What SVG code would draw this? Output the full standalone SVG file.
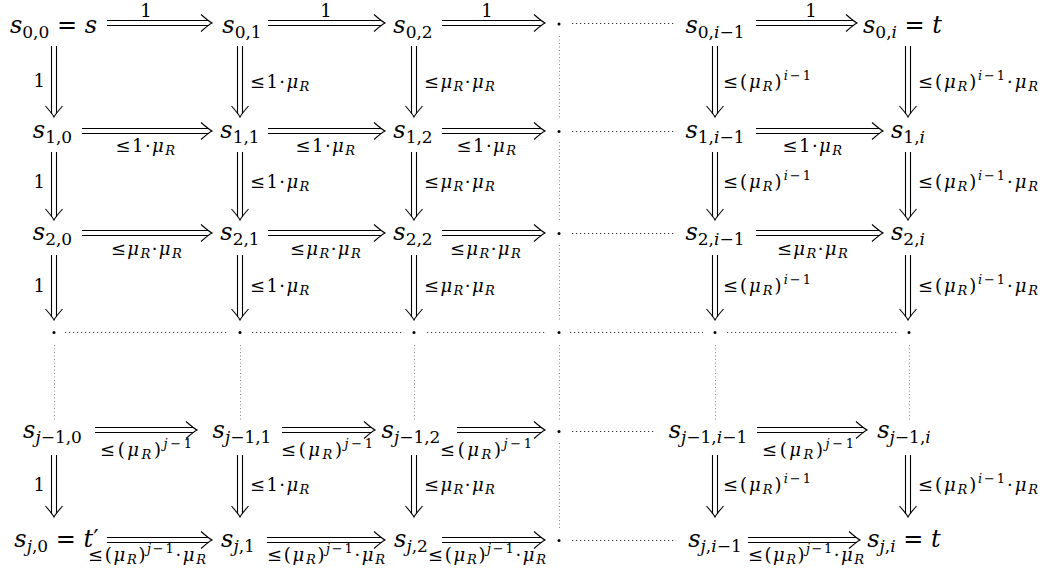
<svg xmlns="http://www.w3.org/2000/svg" xmlns:xlink="http://www.w3.org/1999/xlink" width="1047" height="576" viewBox="0 0 1047 576">
<style>
text{font-family:"DejaVu Serif","Liberation Serif",serif;fill:#000}
.m{font-size:24px}
.b{font-size:17px}
.l{font-size:18px}
.s{font-size:13px}
.i{font-style:italic}
.w{letter-spacing:1.4px}
.dl{fill:none;stroke:#000;stroke-width:1.1}
.hd{fill:none;stroke:#333;stroke-width:1;stroke-dasharray:1.2 2.8}
.vd{fill:none;stroke:#888;stroke-width:1;stroke-dasharray:1 2.5}
.dot{fill:#000}
</style>
<defs>
<path id="hr" class="dl" d="M-11,-8.5 C-7,-5 -3,-1.5 0,0 C-3,1.5 -7,5 -11,8.5"/>
<path id="hdn" class="dl" d="M8.5,-11 C5,-7 1.5,-3 0,0 C-1.5,-3 -5,-7 -8.5,-11"/>
</defs>
<rect width="1047" height="576" fill="#fff"/>

<g id="connectors">
<path class="dl" d="M107,20.5H209M107,25.5H209"/><use xlink:href="#hr" x="212" y="23"/>
<path class="dl" d="M268,20.5H382M268,25.5H382"/><use xlink:href="#hr" x="385" y="23"/>
<path class="dl" d="M442,20.5H542M442,25.5H542"/><use xlink:href="#hr" x="545" y="23"/>
<path class="dl" d="M756,20.5H854M756,25.5H854"/><use xlink:href="#hr" x="857" y="23"/>
<path class="dl" d="M82,128.5H209M82,133.5H209"/><use xlink:href="#hr" x="212" y="131"/>
<path class="dl" d="M268,128.5H382M268,133.5H382"/><use xlink:href="#hr" x="385" y="131"/>
<path class="dl" d="M442,128.5H542M442,133.5H542"/><use xlink:href="#hr" x="545" y="131"/>
<path class="dl" d="M756,128.5H880M756,133.5H880"/><use xlink:href="#hr" x="883" y="131"/>
<path class="dl" d="M82,230.5H209M82,235.5H209"/><use xlink:href="#hr" x="212" y="233"/>
<path class="dl" d="M268,230.5H382M268,235.5H382"/><use xlink:href="#hr" x="385" y="233"/>
<path class="dl" d="M442,230.5H542M442,235.5H542"/><use xlink:href="#hr" x="545" y="233"/>
<path class="dl" d="M756,230.5H880M756,235.5H880"/><use xlink:href="#hr" x="883" y="233"/>
<path class="dl" d="M95,427.5H194M95,432.5H194"/><use xlink:href="#hr" x="197" y="430"/>
<path class="dl" d="M282,427.5H372M282,432.5H372"/><use xlink:href="#hr" x="375" y="430"/>
<path class="dl" d="M457,427.5H542M457,432.5H542"/><use xlink:href="#hr" x="545" y="430"/>
<path class="dl" d="M757,427.5H864M757,432.5H864"/><use xlink:href="#hr" x="867" y="430"/>
<path class="dl" d="M107,537.5H209M107,542.5H209"/><use xlink:href="#hr" x="212" y="540"/>
<path class="dl" d="M267,537.5H382M267,542.5H382"/><use xlink:href="#hr" x="385" y="540"/>
<path class="dl" d="M442,537.5H542M442,542.5H542"/><use xlink:href="#hr" x="545" y="540"/>
<path class="dl" d="M748,537.5H857M748,542.5H857"/><use xlink:href="#hr" x="860" y="540"/>

<path class="dl" d="M51.5,46V114M56.5,46V114"/><use xlink:href="#hdn" x="54" y="117"/>
<path class="dl" d="M237.5,46V114M242.5,46V114"/><use xlink:href="#hdn" x="240" y="117"/>
<path class="dl" d="M411.5,46V114M416.5,46V114"/><use xlink:href="#hdn" x="414" y="117"/>
<path class="dl" d="M712.5,46V114M717.5,46V114"/><use xlink:href="#hdn" x="715" y="117"/>
<path class="dl" d="M905.5,46V114M910.5,46V114"/><use xlink:href="#hdn" x="908" y="117"/>
<path class="dl" d="M51.5,152V217M56.5,152V217"/><use xlink:href="#hdn" x="54" y="220"/>
<path class="dl" d="M237.5,152V217M242.5,152V217"/><use xlink:href="#hdn" x="240" y="220"/>
<path class="dl" d="M411.5,152V217M416.5,152V217"/><use xlink:href="#hdn" x="414" y="220"/>
<path class="dl" d="M712.5,152V217M717.5,152V217"/><use xlink:href="#hdn" x="715" y="220"/>
<path class="dl" d="M905.5,152V217M910.5,152V217"/><use xlink:href="#hdn" x="908" y="220"/>
<path class="dl" d="M51.5,255V317M56.5,255V317"/><use xlink:href="#hdn" x="54" y="320"/>
<path class="dl" d="M237.5,255V317M242.5,255V317"/><use xlink:href="#hdn" x="240" y="320"/>
<path class="dl" d="M411.5,255V317M416.5,255V317"/><use xlink:href="#hdn" x="414" y="320"/>
<path class="dl" d="M712.5,255V317M717.5,255V317"/><use xlink:href="#hdn" x="715" y="320"/>
<path class="dl" d="M905.5,255V317M910.5,255V317"/><use xlink:href="#hdn" x="908" y="320"/>
<path class="dl" d="M51.5,455V514M56.5,455V514"/><use xlink:href="#hdn" x="54" y="517"/>
<path class="dl" d="M237.5,455V514M242.5,455V514"/><use xlink:href="#hdn" x="240" y="517"/>
<path class="dl" d="M411.5,455V514M416.5,455V514"/><use xlink:href="#hdn" x="414" y="517"/>
<path class="dl" d="M712.5,455V514M717.5,455V514"/><use xlink:href="#hdn" x="715" y="517"/>
<path class="dl" d="M905.5,455V514M910.5,455V514"/><use xlink:href="#hdn" x="908" y="517"/>

<path class="hd" d="M572,23.5H675M572,131.5H675M572,233.5H675M572,431.5H655M572,540.5H675"/>
<path class="hd" d="M65,332.5H228M252,332.5H403M427,332.5H547M570,332.5H703M727,332.5H897"/>
<path class="vd" d="M54.5,345V420M240.5,345V420M414.5,345V420M715.5,345V420M909.5,345V420"/>
<path class="vd" d="M559.5,36V120M559.5,142V222M559.5,245V320M559.5,345V420M559.5,443V528"/>
</g>

<g id="edge-labels">
<text class="l" x="146" y="17" text-anchor="middle">1</text>
<text class="l" x="326" y="17" text-anchor="middle">1</text>
<text class="l" x="487" y="17" text-anchor="middle">1</text>
<text class="l" x="811" y="17" text-anchor="middle">1</text>

<text class="l w" x="146" y="152" text-anchor="middle">≤1·<tspan class="i">μ</tspan><tspan class="s i" dy="3">R</tspan></text>
<text class="l w" x="326" y="152" text-anchor="middle">≤1·<tspan class="i">μ</tspan><tspan class="s i" dy="3">R</tspan></text>
<text class="l w" x="487" y="152" text-anchor="middle">≤1·<tspan class="i">μ</tspan><tspan class="s i" dy="3">R</tspan></text>
<text class="l w" x="813" y="152" text-anchor="middle">≤1·<tspan class="i">μ</tspan><tspan class="s i" dy="3">R</tspan></text>

<text class="l w" x="147" y="255" text-anchor="middle">≤<tspan class="i">μ</tspan><tspan class="s i" dy="3">R</tspan><tspan dy="-3">·</tspan><tspan class="i">μ</tspan><tspan class="s i" dy="3">R</tspan></text>
<text class="l w" x="326" y="255" text-anchor="middle">≤<tspan class="i">μ</tspan><tspan class="s i" dy="3">R</tspan><tspan dy="-3">·</tspan><tspan class="i">μ</tspan><tspan class="s i" dy="3">R</tspan></text>
<text class="l w" x="486" y="255" text-anchor="middle">≤<tspan class="i">μ</tspan><tspan class="s i" dy="3">R</tspan><tspan dy="-3">·</tspan><tspan class="i">μ</tspan><tspan class="s i" dy="3">R</tspan></text>
<text class="l w" x="813" y="255" text-anchor="middle">≤<tspan class="i">μ</tspan><tspan class="s i" dy="3">R</tspan><tspan dy="-3">·</tspan><tspan class="i">μ</tspan><tspan class="s i" dy="3">R</tspan></text>

<text class="l" x="146" y="456" text-anchor="middle" textLength="92">≤(<tspan class="i">μ</tspan><tspan class="s i" dy="3">R</tspan><tspan dy="-3">)</tspan><tspan class="s" dy="-8"><tspan class="i">j</tspan>−1</tspan></text>
<text class="l" x="327" y="456" text-anchor="middle" textLength="92">≤(<tspan class="i">μ</tspan><tspan class="s i" dy="3">R</tspan><tspan dy="-3">)</tspan><tspan class="s" dy="-8"><tspan class="i">j</tspan>−1</tspan></text>
<text class="l" x="486" y="456" text-anchor="middle" textLength="92">≤(<tspan class="i">μ</tspan><tspan class="s i" dy="3">R</tspan><tspan dy="-3">)</tspan><tspan class="s" dy="-8"><tspan class="i">j</tspan>−1</tspan></text>
<text class="l" x="808" y="456" text-anchor="middle" textLength="92">≤(<tspan class="i">μ</tspan><tspan class="s i" dy="3">R</tspan><tspan dy="-3">)</tspan><tspan class="s" dy="-8"><tspan class="i">j</tspan>−1</tspan></text>

<text class="l" x="147" y="561" text-anchor="middle" textLength="118">≤(<tspan class="i">μ</tspan><tspan class="s i" dy="3">R</tspan><tspan dy="-3">)</tspan><tspan class="s" dy="-8"><tspan class="i">j</tspan>−1</tspan><tspan dy="8">·</tspan><tspan class="i">μ</tspan><tspan class="s i" dy="3">R</tspan></text>
<text class="l" x="326" y="561" text-anchor="middle" textLength="118">≤(<tspan class="i">μ</tspan><tspan class="s i" dy="3">R</tspan><tspan dy="-3">)</tspan><tspan class="s" dy="-8"><tspan class="i">j</tspan>−1</tspan><tspan dy="8">·</tspan><tspan class="i">μ</tspan><tspan class="s i" dy="3">R</tspan></text>
<text class="l" x="487" y="561" text-anchor="middle" textLength="118">≤(<tspan class="i">μ</tspan><tspan class="s i" dy="3">R</tspan><tspan dy="-3">)</tspan><tspan class="s" dy="-8"><tspan class="i">j</tspan>−1</tspan><tspan dy="8">·</tspan><tspan class="i">μ</tspan><tspan class="s i" dy="3">R</tspan></text>
<text class="l" x="806" y="561" text-anchor="middle" textLength="116">≤(<tspan class="i">μ</tspan><tspan class="s i" dy="3">R</tspan><tspan dy="-3">)</tspan><tspan class="s" dy="-8"><tspan class="i">j</tspan>−1</tspan><tspan dy="8">·</tspan><tspan class="i">μ</tspan><tspan class="s i" dy="3">R</tspan></text>

<text class="l" x="45" y="87" text-anchor="end">1</text>
<text class="l" x="45" y="188" text-anchor="end">1</text>
<text class="l" x="45" y="292" text-anchor="end">1</text>
<text class="l" x="45" y="491" text-anchor="end">1</text>

<text class="l w" x="250" y="88">≤1·<tspan class="i">μ</tspan><tspan class="s i" dy="3">R</tspan></text>
<text class="l w" x="250" y="188">≤1·<tspan class="i">μ</tspan><tspan class="s i" dy="3">R</tspan></text>
<text class="l w" x="250" y="292">≤1·<tspan class="i">μ</tspan><tspan class="s i" dy="3">R</tspan></text>
<text class="l w" x="250" y="491">≤1·<tspan class="i">μ</tspan><tspan class="s i" dy="3">R</tspan></text>

<text class="l w" x="424" y="88">≤<tspan class="i">μ</tspan><tspan class="s i" dy="3">R</tspan><tspan dy="-3">·</tspan><tspan class="i">μ</tspan><tspan class="s i" dy="3">R</tspan></text>
<text class="l w" x="424" y="188">≤<tspan class="i">μ</tspan><tspan class="s i" dy="3">R</tspan><tspan dy="-3">·</tspan><tspan class="i">μ</tspan><tspan class="s i" dy="3">R</tspan></text>
<text class="l w" x="424" y="292">≤<tspan class="i">μ</tspan><tspan class="s i" dy="3">R</tspan><tspan dy="-3">·</tspan><tspan class="i">μ</tspan><tspan class="s i" dy="3">R</tspan></text>
<text class="l w" x="424" y="491">≤<tspan class="i">μ</tspan><tspan class="s i" dy="3">R</tspan><tspan dy="-3">·</tspan><tspan class="i">μ</tspan><tspan class="s i" dy="3">R</tspan></text>

<text class="l" x="723" y="88" textLength="88">≤(<tspan class="i">μ</tspan><tspan class="s i" dy="3">R</tspan><tspan dy="-3">)</tspan><tspan class="s" dy="-8"><tspan class="i">i</tspan>−1</tspan></text>
<text class="l" x="723" y="188" textLength="88">≤(<tspan class="i">μ</tspan><tspan class="s i" dy="3">R</tspan><tspan dy="-3">)</tspan><tspan class="s" dy="-8"><tspan class="i">i</tspan>−1</tspan></text>
<text class="l" x="723" y="292" textLength="88">≤(<tspan class="i">μ</tspan><tspan class="s i" dy="3">R</tspan><tspan dy="-3">)</tspan><tspan class="s" dy="-8"><tspan class="i">i</tspan>−1</tspan></text>
<text class="l" x="723" y="491" textLength="88">≤(<tspan class="i">μ</tspan><tspan class="s i" dy="3">R</tspan><tspan dy="-3">)</tspan><tspan class="s" dy="-8"><tspan class="i">i</tspan>−1</tspan></text>

<text class="l" x="918" y="88" textLength="120">≤(<tspan class="i">μ</tspan><tspan class="s i" dy="3">R</tspan><tspan dy="-3">)</tspan><tspan class="s" dy="-8"><tspan class="i">i</tspan>−1</tspan><tspan dy="8">·</tspan><tspan class="i">μ</tspan><tspan class="s i" dy="3">R</tspan></text>
<text class="l" x="918" y="188" textLength="120">≤(<tspan class="i">μ</tspan><tspan class="s i" dy="3">R</tspan><tspan dy="-3">)</tspan><tspan class="s" dy="-8"><tspan class="i">i</tspan>−1</tspan><tspan dy="8">·</tspan><tspan class="i">μ</tspan><tspan class="s i" dy="3">R</tspan></text>
<text class="l" x="918" y="292" textLength="120">≤(<tspan class="i">μ</tspan><tspan class="s i" dy="3">R</tspan><tspan dy="-3">)</tspan><tspan class="s" dy="-8"><tspan class="i">i</tspan>−1</tspan><tspan dy="8">·</tspan><tspan class="i">μ</tspan><tspan class="s i" dy="3">R</tspan></text>
<text class="l" x="918" y="491" textLength="120">≤(<tspan class="i">μ</tspan><tspan class="s i" dy="3">R</tspan><tspan dy="-3">)</tspan><tspan class="s" dy="-8"><tspan class="i">i</tspan>−1</tspan><tspan dy="8">·</tspan><tspan class="i">μ</tspan><tspan class="s i" dy="3">R</tspan></text>
</g>

<g id="n0-0"><text class="m" x="53.5" y="33" text-anchor="middle"><tspan class="i">s</tspan><tspan class="b" dy="5">0,0</tspan><tspan dy="-5"> = </tspan><tspan class="i">s</tspan></text></g>
<g id="n0-1"><text class="m" x="242" y="33" text-anchor="middle"><tspan class="i">s</tspan><tspan class="b" dy="5">0,1</tspan></text></g>
<g id="n0-2"><text class="m" x="413" y="33" text-anchor="middle"><tspan class="i">s</tspan><tspan class="b" dy="5">0,2</tspan></text></g>
<g id="n0-d"><circle class="dot" cx="559" cy="24" r="1.5"/></g>
<g id="n0-im1"><text class="m" x="715" y="33" text-anchor="middle"><tspan class="i">s</tspan><tspan class="b" dy="5">0,<tspan class="i">i</tspan>−1</tspan></text></g>
<g id="n0-i"><text class="m" x="902.5" y="33" text-anchor="middle"><tspan class="i">s</tspan><tspan class="b" dy="5">0,<tspan class="i">i</tspan></tspan><tspan dy="-5"> = </tspan><tspan class="i">t</tspan></text></g>

<g id="n1-0"><text class="m" x="52.5" y="138" text-anchor="middle"><tspan class="i">s</tspan><tspan class="b" dy="5">1,0</tspan></text></g>
<g id="n1-1"><text class="m" x="240" y="138" text-anchor="middle"><tspan class="i">s</tspan><tspan class="b" dy="5">1,1</tspan></text></g>
<g id="n1-2"><text class="m" x="413" y="138" text-anchor="middle"><tspan class="i">s</tspan><tspan class="b" dy="5">1,2</tspan></text></g>
<g id="n1-d"><circle class="dot" cx="559" cy="131.5" r="1.5"/></g>
<g id="n1-im1"><text class="m" x="715" y="138" text-anchor="middle"><tspan class="i">s</tspan><tspan class="b" dy="5">1,<tspan class="i">i</tspan>−1</tspan></text></g>
<g id="n1-i"><text class="m" x="908" y="138" text-anchor="middle"><tspan class="i">s</tspan><tspan class="b" dy="5">1,<tspan class="i">i</tspan></tspan></text></g>

<g id="n2-0"><text class="m" x="52.5" y="240" text-anchor="middle"><tspan class="i">s</tspan><tspan class="b" dy="5">2,0</tspan></text></g>
<g id="n2-1"><text class="m" x="240" y="240" text-anchor="middle"><tspan class="i">s</tspan><tspan class="b" dy="5">2,1</tspan></text></g>
<g id="n2-2"><text class="m" x="413" y="240" text-anchor="middle"><tspan class="i">s</tspan><tspan class="b" dy="5">2,2</tspan></text></g>
<g id="n2-d"><circle class="dot" cx="559" cy="233.5" r="1.5"/></g>
<g id="n2-im1"><text class="m" x="715" y="240" text-anchor="middle"><tspan class="i">s</tspan><tspan class="b" dy="5">2,<tspan class="i">i</tspan>−1</tspan></text></g>
<g id="n2-i"><text class="m" x="908" y="240" text-anchor="middle"><tspan class="i">s</tspan><tspan class="b" dy="5">2,<tspan class="i">i</tspan></tspan></text></g>

<g id="n3-0"><circle class="dot" cx="54" cy="332.5" r="1.5"/></g>
<g id="n3-1"><circle class="dot" cx="240" cy="332.5" r="1.5"/></g>
<g id="n3-2"><circle class="dot" cx="414" cy="332.5" r="1.5"/></g>
<g id="n3-d"><circle class="dot" cx="559" cy="332.5" r="1.5"/></g>
<g id="n3-im1"><circle class="dot" cx="715" cy="332.5" r="1.5"/></g>
<g id="n3-i"><circle class="dot" cx="909" cy="332.5" r="1.5"/></g>

<g id="n4-0"><text class="m" x="52.5" y="438" text-anchor="middle"><tspan class="i">s</tspan><tspan class="b" dy="5"><tspan class="i">j</tspan>−1,0</tspan></text></g>
<g id="n4-1"><text class="m" x="242" y="438" text-anchor="middle"><tspan class="i">s</tspan><tspan class="b" dy="5"><tspan class="i">j</tspan>−1,1</tspan></text></g>
<g id="n4-2"><text class="m" x="411" y="438" text-anchor="middle"><tspan class="i">s</tspan><tspan class="b" dy="5"><tspan class="i">j</tspan>−1,2</tspan></text></g>
<g id="n4-d"><circle class="dot" cx="559" cy="431.5" r="1.5"/></g>
<g id="n4-im1"><text class="m" x="708" y="438" text-anchor="middle"><tspan class="i">s</tspan><tspan class="b" dy="5"><tspan class="i">j</tspan>−1,<tspan class="i">i</tspan>−1</tspan></text></g>
<g id="n4-i"><text class="m" x="904" y="438" text-anchor="middle"><tspan class="i">s</tspan><tspan class="b" dy="5"><tspan class="i">j</tspan>−1,<tspan class="i">i</tspan></tspan></text></g>

<g id="n5-0"><text class="m" x="56.5" y="547" text-anchor="middle"><tspan class="i">s</tspan><tspan class="b" dy="5"><tspan class="i">j</tspan>,0</tspan><tspan dy="-5"> = </tspan><tspan class="i">t</tspan>′</text></g>
<g id="n5-1"><text class="m" x="238" y="547" text-anchor="middle"><tspan class="i">s</tspan><tspan class="b" dy="5"><tspan class="i">j</tspan>,1</tspan></text></g>
<g id="n5-2"><text class="m" x="411" y="547" text-anchor="middle"><tspan class="i">s</tspan><tspan class="b" dy="5"><tspan class="i">j</tspan>,2</tspan></text></g>
<g id="n5-d"><circle class="dot" cx="559" cy="540.5" r="1.5"/></g>
<g id="n5-im1"><text class="m" x="715" y="547" text-anchor="middle"><tspan class="i">s</tspan><tspan class="b" dy="5"><tspan class="i">j</tspan>,<tspan class="i">i</tspan>−1</tspan></text></g>
<g id="n5-i"><text class="m" x="904" y="547" text-anchor="middle"><tspan class="i">s</tspan><tspan class="b" dy="5"><tspan class="i">j</tspan>,<tspan class="i">i</tspan></tspan><tspan dy="-5"> = </tspan><tspan class="i">t</tspan></text></g>
</svg>
